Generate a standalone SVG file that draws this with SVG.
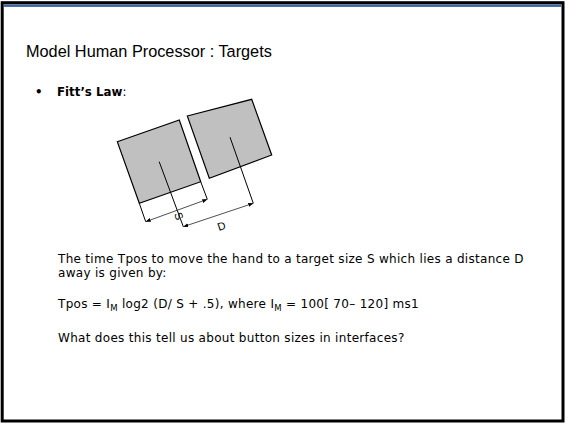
<svg xmlns="http://www.w3.org/2000/svg" width="565" height="424" viewBox="0 0 565 424">
<style>
.t{font-family:"DejaVu Sans",Verdana,sans-serif;font-size:12px;letter-spacing:0.3px;fill:#000}
.b{font-family:"DejaVu Sans",Verdana,sans-serif;font-size:11.8px;fill:#000}
.title{font-family:"Liberation Sans",Arial,sans-serif;font-size:16.3px;fill:#000}
.sq{fill:#c0c0c0;stroke:#000;stroke-width:1.2}
.ln{stroke:#000;stroke-width:1;fill:none}
.dim{stroke:#222;stroke-width:0.8;fill:none}
.lbl{font-family:"Liberation Sans",Arial,sans-serif;font-size:11px;fill:#000}
</style>
<defs>
<marker id="ah" viewBox="0 0 10 10" refX="10" refY="5" markerWidth="5" markerHeight="5" orient="auto-start-reverse" markerUnits="userSpaceOnUse">
<path d="M0,1 L10,5 L0,9 z" fill="#000"/>
</marker>
</defs>
<rect x="0" y="0" width="565" height="424" fill="#fff"/>
<g id="frame">
<rect x="2.2" y="2.7" width="560.8" height="418.3" fill="none" stroke="#000" stroke-width="3"/>
<rect x="3.7" y="4.3" width="557.8" height="2.6" fill="#3c6496"/>
</g>
<g id="title"><text class="title" x="26" y="57">Model Human Processor : Targets</text></g>
<g id="bullet">
<text class="b" x="35" y="96" font-weight="bold">•</text>
<text class="b" x="57" y="96"><tspan font-weight="bold">Fitt’s Law</tspan>:</text>
</g>
<g id="target-start">
<polygon class="sq" points="117.3,141.7 179.3,120 200.7,181.7 139.3,203.3"/>
</g>
<g id="target-end">
<polygon class="sq" points="187.3,116 251.7,99.3 271.7,155 209.3,178.3"/>
</g>
<g id="connectors">
<line class="ln" x1="159.2" y1="161.7" x2="183.3" y2="226.7"/>
<line class="ln" x1="230" y1="137.2" x2="253.3" y2="203.3"/>
<line class="ln" x1="139.3" y1="203.3" x2="145.7" y2="221.7"/>
<line class="ln" x1="200.7" y1="181.7" x2="207.3" y2="199.3"/>
<line class="dim" x1="145.7" y1="221.7" x2="207.3" y2="199.3" marker-start="url(#ah)" marker-end="url(#ah)"/>
<line class="dim" x1="183.3" y1="226.7" x2="253.3" y2="203.3" marker-start="url(#ah)" marker-end="url(#ah)"/>
</g>
<g id="labels">
<text class="lbl" transform="translate(174,214) rotate(70)">S</text>
<text class="lbl" transform="translate(219,231) rotate(-19)">D</text>
</g>
<g id="body">
<text class="t" x="58" y="263">The time Tpos to move the hand to a target size S which lies a distance D</text>
<text class="t" x="58" y="277">away is given by:</text>
<text class="t" x="58" y="308">Tpos = I<tspan font-size="8.5" dy="2.5">M</tspan><tspan dy="-2.5"> log2 (D/ S + .5), where I</tspan><tspan font-size="8.5" dy="2.5">M</tspan><tspan dy="-2.5"> = 100[ 70– 120] ms1</tspan></text>
<text class="t" x="58" y="341.5">What does this tell us about button sizes in interfaces?</text>
</g>
</svg>
